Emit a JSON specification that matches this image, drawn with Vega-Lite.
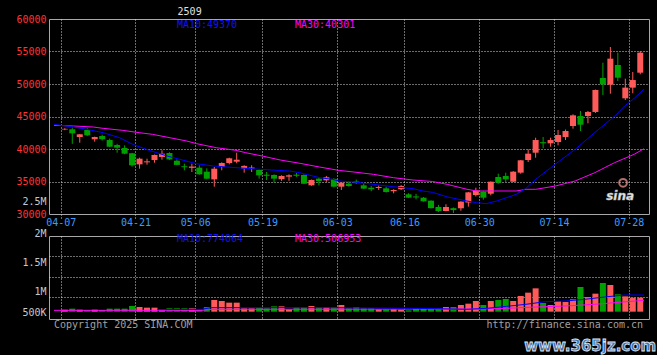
{
"$schema": "https://vega.github.io/schema/vega-lite/v6.json",
"background": "#000000",
"padding": {"left": 15, "top": 6, "right": 0, "bottom": 0},
"bounds": "flush",
"spacing": 22,
"resolve": {"scale": {"x": "independent", "y": "independent"}},
"config": {
  "view": {"stroke": "#a8a8a8", "strokeWidth": 1},
  "axis": {"domain": false, "ticks": false, "title": null, "grid": true, "gridColor": "#d8d8d8", "gridDash": [1, 2], "gridWidth": 1, "gridOpacity": 1, "labelFont": "DejaVu Sans Mono", "labelFontSize": 10, "labelOverlap": false}
},
"datasets": {
  "k": [
    {"i":0,"o":43000,"h":43200,"l":42900,"c":43100,"v":188000},
    {"i":1,"o":43030,"h":43300,"l":40800,"c":42410,"v":213000},
    {"i":2,"o":41850,"h":42300,"l":40970,"c":42260,"v":188000},
    {"i":3,"o":42920,"h":43200,"l":42000,"c":42110,"v":180000},
    {"i":4,"o":41490,"h":41900,"l":41120,"c":41850,"v":188000},
    {"i":5,"o":42000,"h":42200,"l":41300,"c":41500,"v":180000},
    {"i":6,"o":41380,"h":41600,"l":40300,"c":40350,"v":213000},
    {"i":7,"o":40610,"h":40800,"l":39430,"c":40200,"v":213000},
    {"i":8,"o":40150,"h":40560,"l":39200,"c":39280,"v":213000},
    {"i":9,"o":39340,"h":39400,"l":37280,"c":37490,"v":279000},
    {"i":10,"o":37640,"h":38660,"l":36970,"c":38510,"v":254000},
    {"i":11,"o":37950,"h":38510,"l":37590,"c":38100,"v":238000},
    {"i":12,"o":38310,"h":39150,"l":37890,"c":39080,"v":238000},
    {"i":13,"o":38770,"h":39800,"l":38350,"c":39280,"v":197000},
    {"i":14,"o":39380,"h":39500,"l":38300,"c":38400,"v":221000},
    {"i":15,"o":38200,"h":38400,"l":37500,"c":37550,"v":221000},
    {"i":16,"o":37350,"h":37740,"l":36720,"c":37200,"v":221000},
    {"i":17,"o":37100,"h":37740,"l":36460,"c":37300,"v":221000},
    {"i":18,"o":37130,"h":37490,"l":36050,"c":36100,"v":197000},
    {"i":19,"o":36510,"h":37030,"l":35350,"c":35440,"v":254000},
    {"i":20,"o":35330,"h":37230,"l":34200,"c":36970,"v":426000},
    {"i":21,"o":37230,"h":37950,"l":36720,"c":37850,"v":402000},
    {"i":22,"o":37850,"h":38660,"l":37640,"c":38570,"v":361000},
    {"i":23,"o":38050,"h":39430,"l":37800,"c":38350,"v":361000},
    {"i":24,"o":37000,"h":37500,"l":36360,"c":37400,"v":221000},
    {"i":25,"o":36980,"h":37500,"l":36460,"c":37150,"v":221000},
    {"i":26,"o":36770,"h":36850,"l":35440,"c":35950,"v":238000},
    {"i":27,"o":36050,"h":36460,"l":35230,"c":35880,"v":221000},
    {"i":28,"o":36000,"h":36100,"l":34820,"c":35440,"v":270000},
    {"i":29,"o":35350,"h":35950,"l":35100,"c":35850,"v":270000},
    {"i":30,"o":35750,"h":36100,"l":35100,"c":35950,"v":197000},
    {"i":31,"o":36050,"h":36300,"l":35700,"c":35880,"v":254000},
    {"i":32,"o":36000,"h":36100,"l":34600,"c":34670,"v":254000},
    {"i":33,"o":34410,"h":35300,"l":34350,"c":35230,"v":279000},
    {"i":34,"o":35440,"h":35600,"l":34410,"c":35080,"v":254000},
    {"i":35,"o":35180,"h":35850,"l":34950,"c":35650,"v":254000},
    {"i":36,"o":35400,"h":35500,"l":34100,"c":34200,"v":254000},
    {"i":37,"o":34200,"h":34900,"l":33690,"c":34820,"v":303000},
    {"i":38,"o":34670,"h":35080,"l":34200,"c":34310,"v":221000},
    {"i":39,"o":35000,"h":35300,"l":34650,"c":34750,"v":254000},
    {"i":40,"o":34410,"h":34720,"l":33850,"c":33900,"v":221000},
    {"i":41,"o":34050,"h":34300,"l":33500,"c":33800,"v":221000},
    {"i":42,"o":34000,"h":34400,"l":33700,"c":34150,"v":197000},
    {"i":43,"o":33950,"h":34200,"l":33300,"c":33380,"v":197000},
    {"i":44,"o":33500,"h":33800,"l":33180,"c":33700,"v":197000},
    {"i":45,"o":33800,"h":34450,"l":33700,"c":34310,"v":188000},
    {"i":46,"o":33030,"h":33200,"l":32450,"c":32510,"v":172000},
    {"i":47,"o":32700,"h":33100,"l":32250,"c":32550,"v":213000},
    {"i":48,"o":32510,"h":32600,"l":31900,"c":31950,"v":213000},
    {"i":49,"o":32050,"h":32100,"l":30850,"c":30900,"v":213000},
    {"i":50,"o":31080,"h":31400,"l":30300,"c":30460,"v":213000},
    {"i":51,"o":30460,"h":31500,"l":30400,"c":31080,"v":254000},
    {"i":52,"o":30900,"h":31000,"l":30150,"c":30600,"v":254000},
    {"i":53,"o":30880,"h":31950,"l":30500,"c":31900,"v":303000},
    {"i":54,"o":31770,"h":33400,"l":31130,"c":33330,"v":336000},
    {"i":55,"o":32920,"h":34050,"l":32700,"c":33640,"v":402000},
    {"i":56,"o":33430,"h":33500,"l":32200,"c":32510,"v":303000},
    {"i":57,"o":33120,"h":35000,"l":32870,"c":34970,"v":402000},
    {"i":58,"o":35690,"h":36200,"l":34650,"c":34820,"v":426000},
    {"i":59,"o":35850,"h":36360,"l":34920,"c":35330,"v":451000},
    {"i":60,"o":34970,"h":36600,"l":34900,"c":36510,"v":402000},
    {"i":61,"o":36360,"h":38300,"l":36200,"c":38260,"v":525000},
    {"i":62,"o":38310,"h":39950,"l":38000,"c":39280,"v":607000},
    {"i":63,"o":39430,"h":41740,"l":38660,"c":41380,"v":713000},
    {"i":64,"o":41050,"h":41850,"l":40100,"c":40880,"v":352000},
    {"i":65,"o":40870,"h":41740,"l":40350,"c":41380,"v":303000},
    {"i":66,"o":41080,"h":42920,"l":40560,"c":42150,"v":402000},
    {"i":67,"o":41850,"h":43000,"l":41380,"c":42770,"v":377000},
    {"i":68,"o":43540,"h":45330,"l":43130,"c":45180,"v":443000},
    {"i":69,"o":45080,"h":45850,"l":42770,"c":43740,"v":746000},
    {"i":70,"o":45080,"h":45850,"l":43950,"c":45700,"v":500000},
    {"i":71,"o":45700,"h":49150,"l":45540,"c":49080,"v":582000},
    {"i":72,"o":50920,"h":53280,"l":48310,"c":49950,"v":844000},
    {"i":73,"o":49900,"h":55690,"l":48510,"c":53900,"v":795000},
    {"i":74,"o":52920,"h":54820,"l":50460,"c":50970,"v":566000},
    {"i":75,"o":47800,"h":50820,"l":47540,"c":49440,"v":516000},
    {"i":76,"o":49440,"h":51850,"l":48570,"c":50610,"v":484000},
    {"i":77,"o":51740,"h":55080,"l":51490,"c":54820,"v":484000}
  ],
  "ma": [
    {"s":"p10","i":-1.45,"m":43800},{"s":"p10","i":1.18,"m":43380},{"s":"p10","i":2.93,"m":43030},{"s":"p10","i":5.13,"m":42510},{"s":"p10","i":7.33,"m":41740},{"s":"p10","i":9.08,"m":40720},{"s":"p10","i":11.28,"m":39800},{"s":"p10","i":13.7,"m":38920},{"s":"p10","i":15.4,"m":38410},{"s":"p10","i":17.6,"m":37740},{"s":"p10","i":19.9,"m":37380},{"s":"p10","i":22.9,"m":37130},{"s":"p10","i":26.2,"m":36870},{"s":"p10","i":30.1,"m":36610},{"s":"p10","i":31.4,"m":36360},{"s":"p10","i":32.8,"m":35950},{"s":"p10","i":34.1,"m":35590},{"s":"p10","i":35.8,"m":35330},{"s":"p10","i":36.7,"m":35080},{"s":"p10","i":38.7,"m":34920},{"s":"p10","i":41.3,"m":34560},{"s":"p10","i":43.9,"m":34200},{"s":"p10","i":46.6,"m":33900},{"s":"p10","i":47.9,"m":33540},{"s":"p10","i":49.2,"m":33330},{"s":"p10","i":51.2,"m":32620},{"s":"p10","i":53.8,"m":32000},{"s":"p10","i":55.1,"m":31740},{"s":"p10","i":56.4,"m":31590},{"s":"p10","i":57.8,"m":32000},{"s":"p10","i":59.1,"m":32510},{"s":"p10","i":60.4,"m":33030},{"s":"p10","i":61.7,"m":33950},{"s":"p10","i":63.0,"m":35330},{"s":"p10","i":65.6,"m":37640},{"s":"p10","i":68.3,"m":39950},{"s":"p10","i":70.9,"m":42510},{"s":"p10","i":73.6,"m":45080},{"s":"p10","i":74.9,"m":46600},{"s":"p10","i":76.2,"m":47800},{"s":"p10","i":77.5,"m":49200},
    {"s":"p30","i":-1.45,"m":43640},{"s":"p30","i":1.18,"m":43540},{"s":"p30","i":3.82,"m":43380},{"s":"p30","i":5.13,"m":43180},{"s":"p30","i":7.76,"m":42870},{"s":"p30","i":9.96,"m":42510},{"s":"p30","i":11.71,"m":42260},{"s":"p30","i":16.32,"m":41230},{"s":"p30","i":17.63,"m":40820},{"s":"p30","i":20.26,"m":40200},{"s":"p30","i":22.89,"m":39800},{"s":"p30","i":24.21,"m":39430},{"s":"p30","i":26.41,"m":38920},{"s":"p30","i":28.82,"m":38310},{"s":"p30","i":31.45,"m":37800},{"s":"p30","i":34.08,"m":37230},{"s":"p30","i":36.71,"m":36700},{"s":"p30","i":38.68,"m":36460},{"s":"p30","i":41.32,"m":36100},{"s":"p30","i":43.95,"m":35590},{"s":"p30","i":46.58,"m":35230},{"s":"p30","i":49.21,"m":35000},{"s":"p30","i":51.18,"m":34560},{"s":"p30","i":53.82,"m":33800},{"s":"p30","i":55.13,"m":33540},{"s":"p30","i":60.39,"m":33540},{"s":"p30","i":61.71,"m":33800},{"s":"p30","i":63.03,"m":33800},{"s":"p30","i":65.66,"m":34310},{"s":"p30","i":68.29,"m":35080},{"s":"p30","i":70.92,"m":36360},{"s":"p30","i":73.55,"m":37890},{"s":"p30","i":76.18,"m":39180},{"s":"p30","i":77.5,"m":40050},
    {"s":"v10","i":12.4,"m":188000},{"s":"v10","i":18.3,"m":197000},{"s":"v10","i":19.6,"m":238000},{"s":"v10","i":35.4,"m":238000},{"s":"v10","i":47.2,"m":221000},{"s":"v10","i":53.8,"m":197000},{"s":"v10","i":56.4,"m":221000},{"s":"v10","i":59.1,"m":270000},{"s":"v10","i":61.7,"m":320000},{"s":"v10","i":64.3,"m":385000},{"s":"v10","i":67.0,"m":402000},{"s":"v10","i":69.6,"m":443000},{"s":"v10","i":72.2,"m":500000},{"s":"v10","i":74.9,"m":549000},{"s":"v10","i":77.5,"m":549000},
    {"s":"v30","i":-1.45,"m":172000},{"s":"v30","i":18.3,"m":172000},{"s":"v30","i":19.6,"m":197000},{"s":"v30","i":55.1,"m":205000},{"s":"v30","i":59.1,"m":221000},{"s":"v30","i":63.0,"m":254000},{"s":"v30","i":67.0,"m":279000},{"s":"v30","i":70.9,"m":320000},{"s":"v30","i":73.6,"m":361000},{"s":"v30","i":77.5,"m":418000}
  ]
},
"vconcat": [
  {
    "width": 600,
    "height": 195,
    "data": {"name": "k"},
    "layer": [
      {
        "mark": {"type": "rule", "strokeWidth": 1},
        "encoding": {
          "x": {"field": "i", "type": "quantitative",
            "scale": {"domain": [-1.447, 77.5], "nice": false, "zero": false},
            "axis": {"values": [-0.55, 9.45, 17.45, 26.45, 36.45, 45.45, 55.45, 65.45, 75.45], "tickCount": 50,
              "labelExpr": "datum.value < 5 ? '04-07' : datum.value < 13 ? '04-21' : datum.value < 22 ? '05-06' : datum.value < 30 ? '05-19' : datum.value < 40 ? '06-03' : datum.value < 50 ? '06-16' : datum.value < 60 ? '06-30' : datum.value < 70 ? '07-14' : '07-28'",
              "labelColor": "#3a9cff", "grid": true, "ticks": true, "tickSize": 4, "tickColor": "#d8d8d8", "tickDash": [1, 2], "labelPadding": -1, "labelFlush": false, "labelOverlap": false}},
          "y": {"field": "l", "type": "quantitative",
            "scale": {"domain": [30000, 60000], "nice": false, "zero": false},
            "axis": {"values": [30000, 32000, 35000, 40000, 45000, 50000, 55000, 60000], "tickCount": 50, "format": "d",
              "labelExpr": "datum.value == 32000 ? '2.5M' : datum.label",
              "labelColor": {"condition": {"test": "datum.value == 32000", "value": "#c8c8c8"}, "value": "#ff3333"},
              "grid": true,
              "gridOpacity": {"condition": {"test": "datum.value == 32000 || datum.value == 30000 || datum.value == 60000", "value": 0}, "value": 1},
              "labelPadding": 3, "labelOverlap": false}},
          "y2": {"field": "h"},
          "color": {"condition": {"test": "datum.c >= datum.o", "value": "#ff5a5a"}, "value": "#00a000"}
        }
      },
      {
        "mark": {"type": "bar", "width": 6},
        "encoding": {
          "x": {"field": "i", "type": "quantitative"},
          "y": {"field": "o", "type": "quantitative"},
          "y2": {"field": "c"},
          "color": {"condition": {"test": "datum.c >= datum.o", "value": "#ff5a5a"}, "value": "#00a000"}
        }
      },
      {
        "data": {"name": "ma"},
        "transform": [{"filter": "datum.s == 'p30'"}],
        "mark": {"type": "line", "color": "#ff00ff", "strokeWidth": 1},
        "encoding": {"x": {"field": "i", "type": "quantitative"}, "y": {"field": "m", "type": "quantitative"}}
      },
      {
        "data": {"name": "ma"},
        "transform": [{"filter": "datum.s == 'p10'"}],
        "mark": {"type": "line", "color": "#0000ff", "strokeWidth": 1},
        "encoding": {"x": {"field": "i", "type": "quantitative"}, "y": {"field": "m", "type": "quantitative"}}
      },
      {
        "data": {"values": [{}]},
        "mark": {"type": "text", "align": "center", "baseline": "middle", "font": "DejaVu Sans Mono", "fontSize": 10, "color": "#e0e0e0"},
        "encoding": {"x": {"datum": 16.7}, "y": {"datum": 61150}, "text": {"value": "2509"}}
      },
      {
        "data": {"values": [{}]},
        "mark": {"type": "text", "align": "left", "baseline": "middle", "font": "DejaVu Sans Mono", "fontSize": 10, "color": "#1010ff"},
        "encoding": {"x": {"datum": 15.0}, "y": {"datum": 59050}, "text": {"value": "MA10:49370"}}
      },
      {
        "data": {"values": [{}]},
        "mark": {"type": "text", "align": "left", "baseline": "middle", "font": "DejaVu Sans Mono", "fontSize": 10, "color": "#ff00ff"},
        "encoding": {"x": {"datum": 30.8}, "y": {"datum": 59050}, "text": {"value": "MA30:40301"}}
      },
      {
        "data": {"values": [{}]},
        "mark": {"type": "point", "shape": "circle", "size": 60, "stroke": "#ff9a9a", "strokeWidth": 2, "filled": false},
        "encoding": {"x": {"datum": 74.7}, "y": {"datum": 34800}}
      },
      {
        "data": {"values": [{}]},
        "mark": {"type": "text", "align": "center", "baseline": "middle", "font": "DejaVu Sans", "fontSize": 12, "fontWeight": "bold", "fontStyle": "italic", "color": "#e8e8e8", "stroke": "#b0b0b0", "strokeWidth": 0.5},
        "encoding": {"x": {"datum": 74.3}, "y": {"datum": 32700}, "text": {"value": "sina"}}
      }
    ]
  },
  {
    "width": 600,
    "height": 83,
    "data": {"name": "k"},
    "layer": [
      {
        "mark": {"type": "bar", "width": 6},
        "encoding": {
          "x": {"field": "i", "type": "quantitative",
            "scale": {"domain": [-1.447, 77.5], "nice": false, "zero": false},
            "axis": {"values": [-0.55, 9.45, 17.45, 26.45, 36.45, 45.45, 55.45, 65.45, 75.45], "tickCount": 50, "labels": false, "grid": true}},
          "y": {"field": "v", "type": "quantitative",
            "scale": {"domain": [-41000, 2000000], "nice": false, "zero": false},
            "axis": {"values": [131000, 500000, 623000, 1000000, 1360000, 1500000, 2000000], "tickCount": 50,
              "labelExpr": "datum.value == 2000000 ? '2M' : datum.value == 1360000 ? '1.5M' : datum.value == 623000 ? '1M' : datum.value == 131000 ? '500K' : ''",
              "labelColor": "#c8c8c8",
              "labelBaseline": {"condition": {"test": "datum.value == 2000000", "value": "alphabetic"}, "value": "middle"},
              "grid": true,
              "gridOpacity": {"condition": {"test": "datum.value == 2000000 || datum.value == 1360000 || datum.value == 623000 || datum.value == 131000", "value": 0}, "value": 1},
              "labelPadding": 3, "labelOverlap": false}},
          "y2": {"datum": 139000},
          "color": {"condition": {"test": "datum.c >= datum.o", "value": "#ff5a5a"}, "value": "#00a000"}
        }
      },
      {
        "data": {"name": "ma"},
        "transform": [{"filter": "datum.s == 'v30'"}],
        "mark": {"type": "line", "color": "#ff00ff", "strokeWidth": 1},
        "encoding": {"x": {"field": "i", "type": "quantitative"}, "y": {"field": "m", "type": "quantitative"}}
      },
      {
        "data": {"name": "ma"},
        "transform": [{"filter": "datum.s == 'v10'"}],
        "mark": {"type": "line", "color": "#0000ff", "strokeWidth": 1},
        "encoding": {"x": {"field": "i", "type": "quantitative"}, "y": {"field": "m", "type": "quantitative"}}
      },
      {
        "data": {"values": [{}]},
        "mark": {"type": "text", "align": "left", "baseline": "middle", "font": "DejaVu Sans Mono", "fontSize": 10, "color": "#1010ff"},
        "encoding": {"x": {"datum": 15.0}, "y": {"datum": 1919000}, "text": {"value": "MA10:774064"}}
      },
      {
        "data": {"values": [{}]},
        "mark": {"type": "text", "align": "left", "baseline": "middle", "font": "DejaVu Sans Mono", "fontSize": 10, "color": "#ff00ff"},
        "encoding": {"x": {"datum": 30.8}, "y": {"datum": 1919000}, "text": {"value": "MA30:506953"}}
      },
      {
        "data": {"values": [{}]},
        "mark": {"type": "text", "align": "left", "baseline": "middle", "font": "DejaVu Sans Mono", "fontSize": 10, "color": "#a0a0a0"},
        "encoding": {"x": {"datum": -1.447}, "y": {"datum": -180000}, "text": {"value": "Copyright 2025 SINA.COM"}}
      },
      {
        "data": {"values": [{}]},
        "mark": {"type": "text", "align": "right", "baseline": "middle", "font": "DejaVu Sans Mono", "fontSize": 10, "color": "#a0a0a0"},
        "encoding": {"x": {"datum": 77.37}, "y": {"datum": -180000}, "text": {"value": "http://finance.sina.com.cn"}}
      },
      {
        "data": {"values": [{}]},
        "mark": {"type": "text", "align": "center", "baseline": "middle", "font": "DejaVu Sans", "fontSize": 15, "fontWeight": "bold", "color": "#3f6fae", "stroke": "#dfe8f5", "strokeWidth": 0.8},
        "encoding": {"x": {"datum": 70.3}, "y": {"datum": -705000}, "text": {"value": "www.365jz.com"}}
      }
    ]
  }
]
}
